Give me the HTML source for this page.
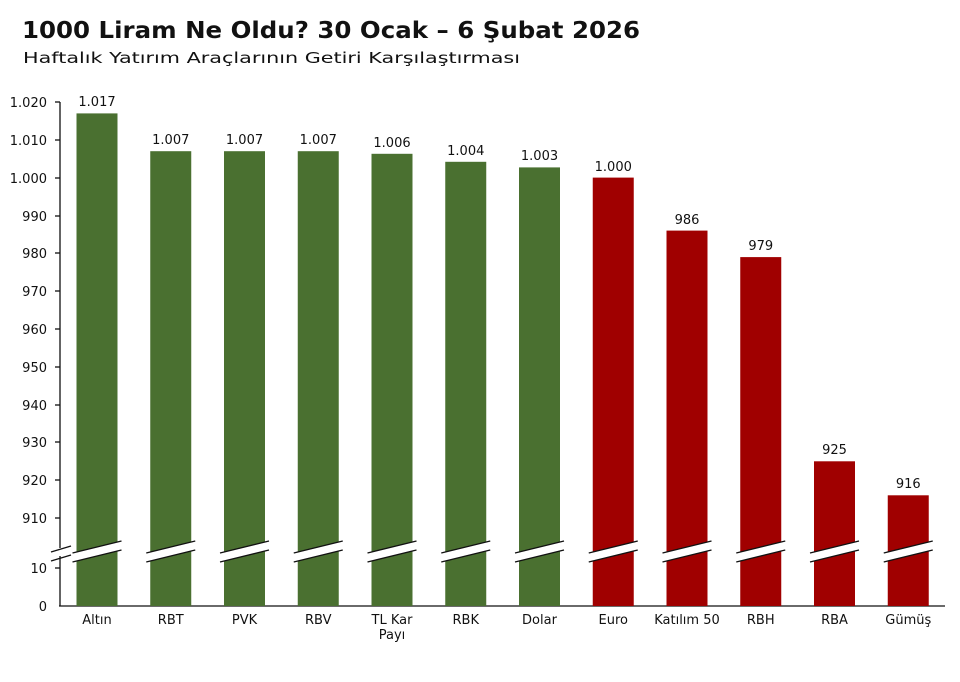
<!DOCTYPE html>
<html><head><meta charset="utf-8"><style>
body{margin:0;background:#fff}
svg text{font-family:"DejaVu Sans","Liberation Sans",sans-serif;fill:#111}
</style></head><body>
<svg width="960" height="677" viewBox="0 0 960 677" xmlns="http://www.w3.org/2000/svg">
<defs>
<g id="brk">
<polygon points="-4,553 45,541 45,550 -4,562" fill="#fff"/>
<line x1="-4" y1="553" x2="45" y2="541" stroke="#111" stroke-width="1.3"/>
<line x1="-4" y1="562" x2="45" y2="550" stroke="#111" stroke-width="1.3"/>
</g>
</defs>
<text x="22" y="38" font-size="23" font-weight="bold" textLength="618" lengthAdjust="spacingAndGlyphs">1000 Liram Ne Oldu? 30 Ocak – 6 Şubat 2026</text>
<text x="23" y="63" font-size="15" textLength="497" lengthAdjust="spacingAndGlyphs" fill="#222">Haftalık Yatırım Araçlarının Getiri Karşılaştırması</text>
<g font-size="13" text-anchor="end">
<text x="47" y="107">1.020</text><text x="47" y="145">1.010</text><text x="47" y="183">1.000</text>
<text x="47" y="221">990</text><text x="47" y="258">980</text><text x="47" y="296">970</text>
<text x="47" y="334">960</text><text x="47" y="372">950</text><text x="47" y="410">940</text>
<text x="47" y="447">930</text><text x="47" y="485">920</text><text x="47" y="523">910</text>
<text x="47" y="573">10</text><text x="47" y="611">0</text>
</g>
<g stroke="#111" stroke-width="1.3">
<line x1="60" y1="102" x2="60" y2="548"/><line x1="60" y1="556" x2="60" y2="606"/>
<line x1="59" y1="606" x2="945" y2="606"/>
<line x1="55" y1="102" x2="60" y2="102"/><line x1="55" y1="140" x2="60" y2="140"/><line x1="55" y1="178" x2="60" y2="178"/>
<line x1="55" y1="216" x2="60" y2="216"/><line x1="55" y1="253" x2="60" y2="253"/><line x1="55" y1="291" x2="60" y2="291"/>
<line x1="55" y1="329" x2="60" y2="329"/><line x1="55" y1="367" x2="60" y2="367"/><line x1="55" y1="405" x2="60" y2="405"/>
<line x1="55" y1="442" x2="60" y2="442"/><line x1="55" y1="480" x2="60" y2="480"/><line x1="55" y1="518" x2="60" y2="518"/>
<line x1="55" y1="568" x2="60" y2="568"/>
<line x1="51" y1="552" x2="71" y2="546"/><line x1="51" y1="561" x2="71" y2="555"/>
</g>
<g fill="#4a7030">
<rect x="76.5" y="113.4" width="41" height="492.6"/>
<rect x="150.25" y="151.2" width="41" height="454.8"/>
<rect x="224" y="151.2" width="41" height="454.8"/>
<rect x="297.75" y="151.2" width="41" height="454.8"/>
<rect x="371.5" y="153.8" width="41" height="452.2"/>
<rect x="445.25" y="161.8" width="41" height="444.2"/>
<rect x="519" y="167.4" width="41" height="438.6"/>
</g>
<g fill="#a00000">
<rect x="592.75" y="177.6" width="41" height="428.4"/>
<rect x="666.5" y="230.6" width="41" height="375.4"/>
<rect x="740.25" y="257.1" width="41" height="348.9"/>
<rect x="814" y="461.3" width="41" height="144.7"/>
<rect x="887.75" y="495.3" width="41" height="110.7"/>
</g>
<use href="#brk" x="76.5"/><use href="#brk" x="150.25"/><use href="#brk" x="224"/><use href="#brk" x="297.75"/>
<use href="#brk" x="371.5"/><use href="#brk" x="445.25"/><use href="#brk" x="519"/><use href="#brk" x="592.75"/>
<use href="#brk" x="666.5"/><use href="#brk" x="740.25"/><use href="#brk" x="814"/><use href="#brk" x="887.75"/>
<g font-size="13" text-anchor="middle">
<text x="97" y="106">1.017</text><text x="170.75" y="144">1.007</text><text x="244.5" y="144">1.007</text>
<text x="318.25" y="144">1.007</text><text x="392" y="147">1.006</text><text x="465.75" y="155">1.004</text>
<text x="539.5" y="160">1.003</text><text x="613.25" y="171">1.000</text><text x="687" y="224">986</text>
<text x="760.75" y="250">979</text><text x="834.5" y="454">925</text><text x="908.25" y="488">916</text>
<text x="97" y="624">Altın</text><text x="170.75" y="624">RBT</text><text x="244.5" y="624">PVK</text>
<text x="318.25" y="624">RBV</text><text x="392" y="624">TL Kar</text><text x="392" y="639">Payı</text>
<text x="465.75" y="624">RBK</text><text x="539.5" y="624">Dolar</text><text x="613.25" y="624">Euro</text>
<text x="687" y="624">Katılım 50</text><text x="760.75" y="624">RBH</text><text x="834.5" y="624">RBA</text>
<text x="908.25" y="624">Gümüş</text>
</g>
</svg>
</body></html>
